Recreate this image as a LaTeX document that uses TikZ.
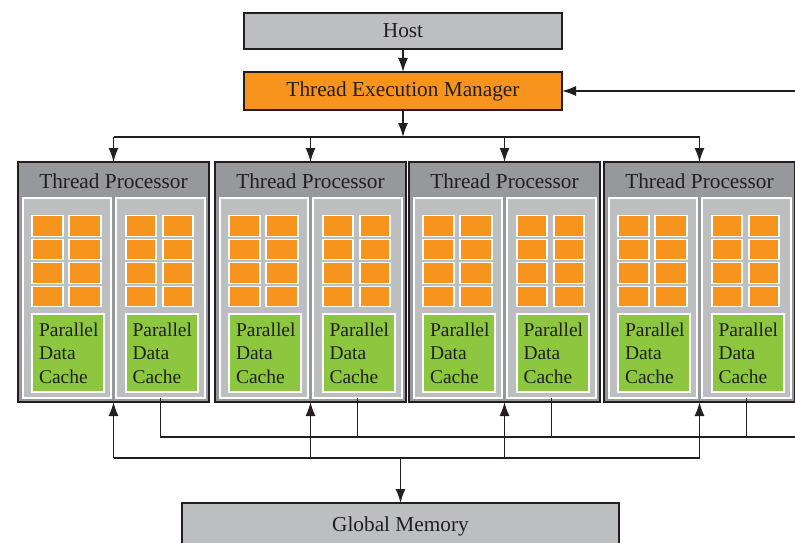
\documentclass[tikz,border=0pt]{standalone}
\usepackage{fontspec}
\setmainfont{Liberation Serif}
\usetikzlibrary{arrows.meta}
\definecolor{boxgray}{HTML}{BCBEC0}
\definecolor{tpgray}{HTML}{97989B}
\definecolor{orng}{HTML}{F7941D}
\definecolor{grn}{HTML}{8DC63F}
\definecolor{ink}{HTML}{231F20}
\tikzset{
  every node/.style={font=\fontsize{21.3}{24}\selectfont, inner sep=0pt, outer sep=0pt, text=ink},
  bigbox/.style={draw=ink, line width=2pt, rectangle},
  tpbox/.style={draw=ink, line width=2pt, fill=tpgray, minimum width=191pt, minimum height=240pt},
  subbox/.style={draw=white, line width=1.5pt, fill=boxgray, minimum height=200pt},
  cellbox/.style={draw=white, line width=1.3pt, fill=orng, minimum height=20.5pt},
  cachebox/.style={draw=white, line width=2pt, fill=grn, minimum height=78pt,
    align=left, inner xsep=7pt, text width=58pt, font=\fontsize{19.5}{23.5}\selectfont},
  conn/.style={draw=ink, line width=1.4pt},
  arr/.style={conn, -{Latex[length=14pt,width=10pt]}}
}
\begin{document}
\begin{tikzpicture}[x=1pt,y=-1pt]
\useasboundingbox (0,0) rectangle (795,543);

% top boxes
\node[bigbox, fill=boxgray, minimum width=318pt, minimum height=36pt] (host) at (403,31) {Host};
\node[bigbox, fill=orng, minimum width=318pt, minimum height=38pt] (tem) at (403,91) {Thread Execution Manager};

% global memory (cut by the lower edge)
\node[bigbox, fill=boxgray, minimum width=437pt, minimum height=60pt] (gm) at (400.5,533) {};
\node (gmlabel) at (400.5,526) {Global Memory};

% thread processors
\foreach \i/\l in {1/18,2/215,3/409,4/604}{
  \node[tpbox] (tp\i) at ({\l+95.5},282) {};
  \node[anchor=base] (tpt\i) at ({\l+95.5},188) {Thread Processor};
  \node[subbox, minimum width=88pt] (tp\i a) at ({\l+49},298) {};
  \node[subbox, minimum width=89pt] (tp\i b) at ({\l+142.5},298) {};
  \foreach \r/\y in {1/226,2/249.5,3/273,4/296.5}{
    \node[cellbox, minimum width=31pt] (c\i a\r 1) at ({\l+29.5},\y) {};
    \node[cellbox, minimum width=32pt] (c\i a\r 2) at ({\l+67},\y) {};
    \node[cellbox, minimum width=30pt] (c\i b\r 1) at ({\l+123},\y) {};
    \node[cellbox, minimum width=30pt] (c\i b\r 2) at ({\l+160},\y) {};
  }
  \node[cachebox, minimum width=72pt] (pd\i a) at ({\l+50},353) {Parallel\\Data\\Cache};
  \node[cachebox, minimum width=71pt] (pd\i b) at ({\l+143.5},353) {Parallel\\Data\\Cache};
}

% host -> manager
\draw[arr] (host.south) -- (host.south |- tem.north);
% feedback into manager from the right
\coordinate (fbR) at (795,91);
\draw[arr] (fbR) -- (tem.east);

% distribution bus
\coordinate (topbus) at (403,137);
\draw[arr] (tem.south) -- (topbus);
\draw[conn] (tp1.north |- topbus) -- (tp4.north |- topbus);
\foreach \i in {1,2,3,4}{
  \draw[arr] (tp\i.north |- topbus) -- (tp\i.north);
}

% return bus to the right
\coordinate (busR) at (795,437);
\draw[conn] (tp1b.south) |- (busR);
\foreach \i in {2,3,4}{
  \draw[conn] (tp\i b.south) -- (tp\i b.south |- busR);
}

% memory bus
\coordinate (lowbus) at (400.5,458);
\draw[conn] (tp1.south |- lowbus) -- (tp4.south |- lowbus);
\foreach \i in {1,2,3,4}{
  \draw[arr] (tp\i.south |- lowbus) -- (tp\i.south);
}
\draw[arr] (lowbus) -- (gm.north);
\end{tikzpicture}
\end{document}
